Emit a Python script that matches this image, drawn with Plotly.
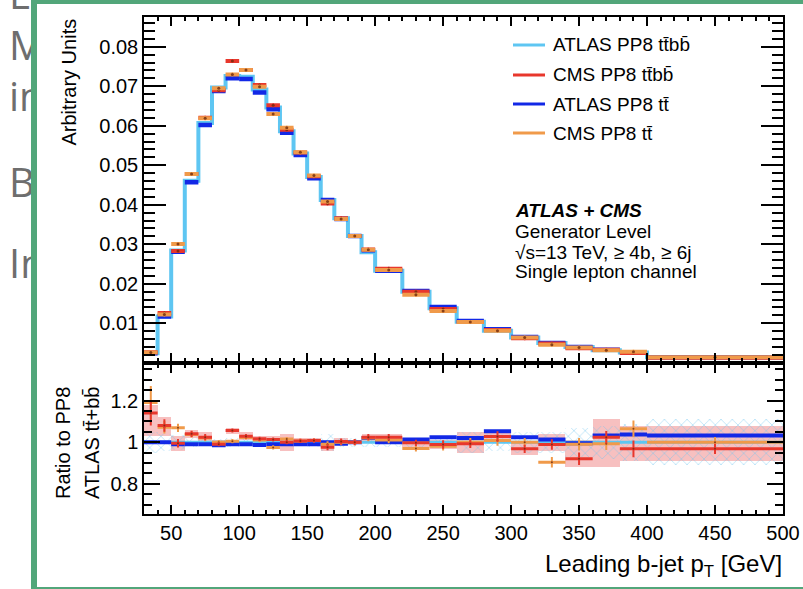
import plotly.graph_objects as go

W, H = 803, 589
FONT = "Liberation Sans, Arial, Helvetica, sans-serif"

# ---------------- data ----------------
# leading b-jet pT bin edges [GeV]
EDGES = [30, 40, 50, 60, 70, 80, 90, 100, 110, 120, 130, 140, 150, 160, 170, 180, 190, 200,
         220, 240, 260, 280, 300, 320, 340, 360, 380, 400, 500]

# normalised distributions (arbitrary units)
ATLAS_TTBB = [0.0024, 0.0117, 0.0284, 0.0461, 0.0607, 0.0697, 0.0726, 0.0724, 0.0692, 0.0646,
              0.0586, 0.0530, 0.0470, 0.0412, 0.0366, 0.0321, 0.0280, 0.0233, 0.0180, 0.0138,
              0.0104, 0.0081, 0.0064, 0.0050, 0.0040, 0.0032, 0.0026, 0.0014]
CMS_TTBB = [0.0027, 0.0126, 0.0283, 0.0478, 0.0620, 0.0690, 0.0764, 0.0741, 0.0703, 0.0652,
            0.0590, 0.0532, 0.0472, 0.0403, 0.0366, 0.0321, 0.0287, 0.0238, 0.0180, 0.0136,
            0.0103, 0.0083, 0.0062, 0.0049, 0.0037, 0.0033, 0.0025, 0.0013]
ATLAS_TT = [0.0024, 0.0117, 0.0281, 0.0457, 0.0602, 0.0688, 0.0720, 0.0718, 0.0684, 0.0642,
            0.0582, 0.0526, 0.0467, 0.0412, 0.0364, 0.0321, 0.0285, 0.0233, 0.0182, 0.0141,
            0.0106, 0.0085, 0.0065, 0.0050, 0.0040, 0.0033, 0.0027, 0.0014]
CMS_TT = [0.0026, 0.0122, 0.0301, 0.0478, 0.0619, 0.0695, 0.0730, 0.0741, 0.0699, 0.0630,
          0.0595, 0.0533, 0.0474, 0.0408, 0.0364, 0.0321, 0.0286, 0.0235, 0.0172, 0.0131,
          0.0103, 0.0081, 0.0064, 0.0046, 0.0039, 0.0032, 0.0028, 0.0014]

# ratios to ATLAS PP8 tt+bb
RATIO_ATLAS_TTBB = [1.0] * 28
ATLAS_TTBB_UNC = [0.05, 0.04, 0.035, 0.02, 0.015, 0.015, 0.02, 0.015, 0.015, 0.015,
                  0.015, 0.015, 0.02, 0.04, 0.02, 0.02, 0.02, 0.02, 0.02, 0.025,
                  0.05, 0.04, 0.05, 0.05, 0.07, 0.08, 0.09, 0.11]
RATIO_CMS_TTBB = [1.14, 1.08, 0.995, 1.04, 1.024, 0.99, 1.056, 1.029, 1.016, 1.013,
                  1.0, 1.006, 1.008, 0.976, 1.003, 1.0, 1.024, 1.024, 0.997, 0.989,
                  0.992, 1.027, 0.968, 0.989, 0.92, 1.024, 0.968, 0.968]
RATIO_CMS_TTBB_ERR = [0.06, 0.03, 0.02, 0.015, 0.015, 0.01, 0.01, 0.01, 0.01, 0.01,
                      0.01, 0.01, 0.01, 0.015, 0.015, 0.015, 0.015, 0.015, 0.015, 0.02,
                      0.02, 0.025, 0.02, 0.025, 0.03, 0.03, 0.04, 0.025]
CMS_TTBB_BAND_LO = [1.03, 1.03, 0.96, 1.02, 1.00, 0.98, 1.04, 1.01, 1.00, 1.00,
                    0.96, 0.99, 0.99, 0.96, 0.99, 0.99, 1.00, 1.00, 0.98, 0.97,
                    0.95, 1.00, 0.94, 0.96, 0.88, 0.88, 0.91, 0.91]
CMS_TTBB_BAND_HI = [1.18, 1.12, 1.03, 1.06, 1.05, 1.01, 1.07, 1.05, 1.03, 1.03,
                    1.04, 1.02, 1.02, 0.99, 1.02, 1.01, 1.04, 1.04, 1.02, 1.01,
                    1.05, 1.06, 1.00, 1.04, 1.01, 1.11, 1.08, 1.08]
RATIO_ATLAS_TT = [1.0, 1.0, 0.99, 0.99, 0.99, 0.985, 0.99, 0.99, 0.987, 0.99,
                  0.99, 0.99, 0.99, 1.0, 0.992, 1.0, 1.02, 1.0, 1.013, 1.024,
                  1.02, 1.053, 1.024, 1.013, 0.995, 1.032, 1.037, 1.032]
RATIO_CMS_TT = [1.19, 1.072, 1.069, 1.037, 1.02, 1.0, 1.005, 1.023, 1.01, 0.975,
                1.015, 1.006, 1.008, 0.99, 1.0, 1.0, 1.02, 1.01, 0.97, 0.98,
                1.0, 1.008, 1.0, 0.904, 0.99, 0.992, 1.064, 1.0]
RATIO_CMS_TT_ERR = [0.08, 0.03, 0.02, 0.015, 0.015, 0.01, 0.01, 0.01, 0.01, 0.01,
                    0.01, 0.01, 0.01, 0.015, 0.015, 0.015, 0.015, 0.015, 0.015, 0.02,
                    0.02, 0.025, 0.02, 0.025, 0.03, 0.03, 0.04, 0.025]

# ---------------- styling ----------------
C_LBLUE = "#5ec6f2"
C_RED = "#e8372c"
C_BLUE = "#1228e6"
C_ORANGE = "#f09a4a"
C_PINK = "rgba(240,140,140,0.55)"
C_HATCH = "rgba(110,195,240,0.85)"

centers = [(a + b) / 2 for a, b in zip(EDGES[:-1], EDGES[1:])]
half = [(b - a) / 2 for a, b in zip(EDGES[:-1], EDGES[1:])]
widths = [b - a for a, b in zip(EDGES[:-1], EDGES[1:])]


def px_x(p):
    return p / W


def px_y(p):
    return 1 - p / H


fig = go.Figure()

# ---------- upper panel ----------
fig.add_trace(go.Scatter(x=EDGES, y=ATLAS_TTBB + [ATLAS_TTBB[-1]], mode="lines",
                         line=dict(color=C_LBLUE, width=4, shape="hv"),
                         xaxis="x", yaxis="y", hoverinfo="skip"))
fig.add_trace(go.Scatter(x=centers, y=ATLAS_TT, mode="markers",
                         marker=dict(size=1, color=C_BLUE),
                         error_x=dict(type="data", array=half, width=0, thickness=4.5, color=C_BLUE),
                         xaxis="x", yaxis="y", hoverinfo="skip"))
for vals, col in ((CMS_TTBB, C_RED), (CMS_TT, C_ORANGE)):
    fig.add_trace(go.Scatter(x=centers, y=vals, mode="markers",
                             marker=dict(size=3, color="rgba(110,40,10,0.8)"),
                             error_x=dict(type="data", array=half, width=0, thickness=4, color=col),
                             error_y=dict(type="data", array=[0.0005] * len(vals), width=0,
                                          thickness=1.5, color=col),
                             xaxis="x", yaxis="y", hoverinfo="skip"))

# ---------- ratio panel ----------
fig.add_trace(go.Bar(x=centers, y=[h - l for l, h in zip(CMS_TTBB_BAND_LO, CMS_TTBB_BAND_HI)],
                     base=CMS_TTBB_BAND_LO, width=widths,
                     marker=dict(color=C_PINK, line=dict(width=0)),
                     xaxis="x2", yaxis="y2", hoverinfo="skip"))
fig.add_trace(go.Bar(x=centers, y=[2 * u for u in ATLAS_TTBB_UNC],
                     base=[r - u for r, u in zip(RATIO_ATLAS_TTBB, ATLAS_TTBB_UNC)], width=widths,
                     marker=dict(color="rgba(0,0,0,0)", line=dict(width=0),
                                 pattern=dict(shape="x", fgcolor=C_HATCH, bgcolor="rgba(0,0,0,0)",
                                              size=8, solidity=0.12)),
                     xaxis="x2", yaxis="y2", hoverinfo="skip"))
fig.add_trace(go.Scatter(x=EDGES, y=RATIO_ATLAS_TTBB + [RATIO_ATLAS_TTBB[-1]], mode="lines",
                         line=dict(color=C_LBLUE, width=3, shape="hv"),
                         xaxis="x2", yaxis="y2", hoverinfo="skip"))
fig.add_trace(go.Scatter(x=centers, y=RATIO_ATLAS_TT, mode="markers",
                         marker=dict(size=1, color=C_BLUE),
                         error_x=dict(type="data", array=half, width=0, thickness=4, color=C_BLUE),
                         xaxis="x2", yaxis="y2", hoverinfo="skip"))
for vals, errs, col in ((RATIO_CMS_TT, RATIO_CMS_TT_ERR, C_ORANGE),
                        (RATIO_CMS_TTBB, RATIO_CMS_TTBB_ERR, C_RED)):
    fig.add_trace(go.Scatter(x=centers, y=vals, mode="markers",
                             marker=dict(size=2, color="rgba(110,40,10,0.8)"),
                             error_x=dict(type="data", array=half, width=0, thickness=3, color=col),
                             error_y=dict(type="data", array=errs, width=0, thickness=2, color=col),
                             xaxis="x2", yaxis="y2", hoverinfo="skip"))

# ---------- background slide text (partly hidden behind the framed figure) ----------
SLIDE_TEXT = ["Le", "M", "in", "B", "In"]
SLIDE_Y = [-1, 50, 101, 187, 268]
fig.add_trace(go.Scatter(x=[9] * len(SLIDE_TEXT), y=SLIDE_Y, text=SLIDE_TEXT, mode="text",
                         textposition="middle right", cliponaxis=True,
                         textfont=dict(family="Open Sans, sans-serif", size=40, color="#6e6e6e"),
                         xaxis="x3", yaxis="y3", hoverinfo="skip"))

# ---------- axes ----------
XDOM = [px_x(144), px_x(783)]
UP_DOM = [px_y(362.8), px_y(16.7)]
LO_DOM = [px_y(514.3), px_y(362.8)]

common = dict(showline=True, linecolor="black", linewidth=1.5, mirror="ticks",
              ticks="inside", tickcolor="black", tickwidth=1.5, showgrid=False,
              zeroline=False, tickfont=dict(family=FONT, size=20, color="black"))

xmaj = dict(tickmode="linear", tick0=0, dtick=50, ticklen=10,
            minor=dict(ticks="inside", ticklen=5, tickmode="linear", tick0=0, dtick=10,
                       tickcolor="black", tickwidth=1.5, showgrid=False))

fig.update_layout(
    width=W, height=H, margin=dict(l=0, r=0, t=0, b=0),
    paper_bgcolor="white", plot_bgcolor="rgba(0,0,0,0)", template="none",
    showlegend=False, barmode="overlay", bargap=0,
    xaxis=dict(domain=XDOM, range=[30, 500], anchor="y", showticklabels=False, **common, **xmaj),
    xaxis2=dict(domain=XDOM, range=[30, 500], anchor="y2", showticklabels=True, **common, **xmaj),
    yaxis=dict(domain=UP_DOM, range=[0, 0.0876], anchor="x",
               tickvals=[0.01, 0.02, 0.03, 0.04, 0.05, 0.06, 0.07, 0.08],
               ticktext=["0.01", "0.02", "0.03", "0.04", "0.05", "0.06", "0.07", "0.08"],
               ticklen=22,
               minor=dict(ticks="inside", ticklen=11, tickmode="linear", tick0=0, dtick=0.002,
                          tickcolor="black", tickwidth=1.5, showgrid=False),
               **common),
    yaxis2=dict(domain=LO_DOM, range=[0.654, 1.381], anchor="x2",
                tickvals=[0.8, 1.0, 1.2], ticktext=["0.8", "1", "1.2"], ticklen=16,
                minor=dict(ticks="inside", ticklen=8, tickmode="linear", tick0=0, dtick=0.05,
                           tickcolor="black", tickwidth=1.5, showgrid=False),
                **common),
    xaxis3=dict(domain=[0, px_x(31)], range=[0, 31], visible=False, anchor="y3"),
    yaxis3=dict(domain=[0, 1], range=[589, 0], visible=False, anchor="x3"),
)

# ---------- titles, legend, labels ----------
TXT = dict(family=FONT, color="black")
ann = []
ann.append(dict(text="Arbitrary Units", x=px_x(69), y=px_y(82.5), xref="paper", yref="paper",
                xanchor="center", yanchor="middle", textangle=-90, showarrow=False,
                font=dict(size=20, **TXT)))
ann.append(dict(text="Ratio to PP8", x=px_x(63), y=px_y(443), xref="paper", yref="paper",
                xanchor="center", yanchor="middle", textangle=-90, showarrow=False,
                font=dict(size=20, **TXT)))
ann.append(dict(text="ATLAS tt\u0304+bb\u0304", x=px_x(92), y=px_y(443), xref="paper",
                yref="paper", xanchor="center", yanchor="middle", textangle=-90,
                showarrow=False, font=dict(size=20, **TXT)))
ann.append(dict(text="Leading b-jet p<sub>T</sub> [GeV]", x=px_x(784), y=px_y(565),
                xref="paper", yref="paper", xanchor="right", yanchor="middle", showarrow=False,
                font=dict(size=24, **TXT)))

LEGEND = [("ATLAS PP8 tt\u0304bb\u0304", C_LBLUE), ("CMS PP8 tt\u0304bb\u0304", C_RED),
          ("ATLAS PP8 tt\u0304", C_BLUE), ("CMS PP8 tt\u0304", C_ORANGE)]
LEG_Y = [45, 75, 104, 133]
shapes = []
for (label, col), yy in zip(LEGEND, LEG_Y):
    shapes.append(dict(type="line", xref="paper", yref="paper", x0=px_x(513), x1=px_x(545),
                       y0=px_y(yy), y1=px_y(yy), line=dict(color=col, width=3)))
    ann.append(dict(text=label, x=px_x(551), y=px_y(yy), xref="paper", yref="paper",
                    xanchor="left", yanchor="middle", showarrow=False,
                    font=dict(size=19, **TXT)))

INFO = ["<b><i>ATLAS + CMS</i></b>", "Generator Level", "\u221as=13 TeV, \u2265 4b, \u2265 6j",
        "Single lepton channel"]
INFO_Y = [210, 232, 252, 271]
for t, yy in zip(INFO, INFO_Y):
    ann.append(dict(text=t, x=px_x(513), y=px_y(yy), xref="paper", yref="paper",
                    xanchor="left", yanchor="middle", showarrow=False,
                    font=dict(size=19, **TXT)))

# white card behind the figure hides the rest of the slide text
shapes.append(dict(type="rect", xref="paper", yref="paper", x0=px_x(31), x1=px_x(58),
                   y0=px_y(586), y1=px_y(4), fillcolor="white", line=dict(width=0),
                   layer="above"))
# green frame around the figure
GREEN = "#52a67a"
shapes.append(dict(type="line", xref="paper", yref="paper", x0=px_x(34), x1=px_x(34),
                   y0=0, y1=1, line=dict(color=GREEN, width=6)))
shapes.append(dict(type="line", xref="paper", yref="paper", x0=px_x(31), x1=1,
                   y0=px_y(2), y1=px_y(2), line=dict(color=GREEN, width=4)))
shapes.append(dict(type="line", xref="paper", yref="paper", x0=px_x(31), x1=1,
                   y0=px_y(588), y1=px_y(588), line=dict(color=GREEN, width=2)))

fig.update_layout(annotations=ann, shapes=shapes)

fig.write_html("out.html")
